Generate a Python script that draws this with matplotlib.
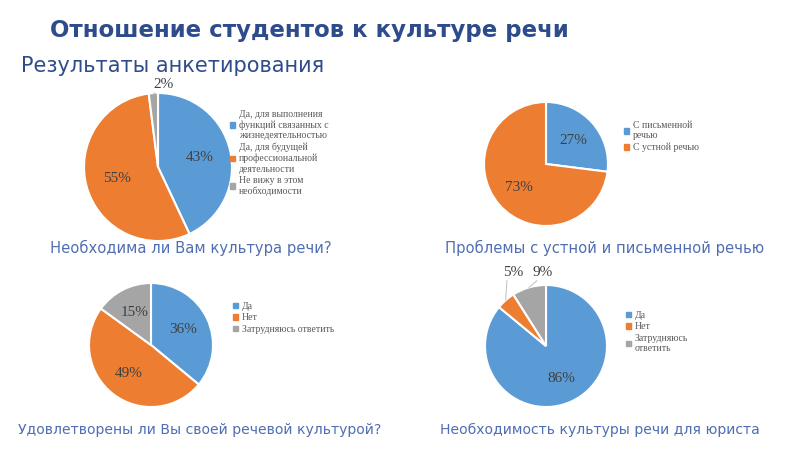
import numpy as np
import matplotlib.pyplot as plt

# data
q1_labels = ['Да, для выполнения\nфункций связанных с\nжизнедеятельностью',
             'Да, для будущей\nпрофессиональной\nдеятельности',
             'Не вижу в этом\nнеобходимости']
q1_values = [43, 55, 2]

q2_labels = ['С письменной\nречью', 'С устной речью']
q2_values = [27, 73]

q3_labels = ['Да', 'Нет', 'Затрудняюсь ответить']
q3_values = [36, 49, 15]

q4_labels = ['Да', 'Нет', 'Затрудняюсь\nответить']
q4_values = [86, 5, 9]

colors = ['#5B9BD5', '#ED7D31', '#A5A5A5']
W, H = 800, 450
serif = 'Liberation Serif'

fig = plt.figure(figsize=(8, 4.5), dpi=100)
fig.patch.set_facecolor('white')


def pie_at(cx, cy, r, values, outside=None):
    # axes placed in pixel coords, pie radius = 1
    ax = fig.add_axes([(cx - r) / W, 1 - (cy + r) / H, 2 * r / W, 2 * r / H])
    wedges, texts, autos = ax.pie(values, colors=colors[:len(values)], startangle=90,
                                  counterclock=False, radius=1,
                                  autopct=lambda p: f'{p:.0f}%', pctdistance=0.58,
                                  wedgeprops=dict(edgecolor='white', linewidth=1.5),
                                  textprops=dict(family=serif, fontsize=11, color='#404040'))
    ax.set_xlim(-1, 1)
    ax.set_ylim(-1, 1)
    ax.set_aspect('equal')
    ax.axis('off')
    if outside:
        for i, (lx, ly) in outside.items():
            w = wedges[i]
            mid = np.deg2rad((w.theta1 + w.theta2) / 2)
            autos[i].set_position((lx, ly))
            autos[i].set_clip_on(False)
            ax.plot([np.cos(mid), lx - 0.1], [np.sin(mid), ly - 0.13],
                    color='#BFBFBF', lw=0.7, clip_on=False)
    return ax


def legend_at(x, y, labels, n):
    handles = [plt.Rectangle((0, 0), 1, 1, color=colors[i]) for i in range(n)]
    fig.legend(handles, labels, loc='upper left', bbox_to_anchor=(x / W, 1 - y / H),
               frameon=False, prop=dict(family=serif, size=7), labelcolor='#595959',
               handlelength=0.5, handleheight=0.5, handletextpad=0.4,
               labelspacing=0.25, borderpad=0, borderaxespad=0)


fig.text(50 / W, 1 - 31 / H, 'Отношение студентов к культуре речи', fontsize=16.5,
         fontweight='bold', color='#2E4C8C', va='center', ha='left')
fig.text(21 / W, 1 - 66 / H, 'Результаты анкетирования', fontsize=15,
         color='#2E4C8C', va='center', ha='left')

pie_at(158, 167, 74, q1_values, outside={2: (0.07, 1.12)})
legend_at(230, 110, q1_labels, 3)

pie_at(546, 164, 62, q2_values)
legend_at(624, 121, q2_labels, 2)

pie_at(151, 345, 62, q3_values)
legend_at(233, 302, q3_labels, 3)

pie_at(546, 346, 61, q4_values, outside={1: (-0.54, 1.2), 2: (-0.05, 1.2)})
legend_at(626, 311, q4_labels, 3)

cap = dict(color='#4F6EB3', va='center')
fig.text(50 / W, 1 - 248 / H, 'Необходима ли Вам культура речи?', fontsize=10.6, **cap)
fig.text(445 / W, 1 - 248 / H, 'Проблемы с устной и письменной речью', fontsize=10.6, **cap)
fig.text(18 / W, 1 - 430 / H, 'Удовлетворены ли Вы своей речевой культурой?', fontsize=10.1, **cap)
fig.text(440 / W, 1 - 430 / H, 'Необходимость культуры речи для юриста', fontsize=10.1, **cap)

plt.savefig('out.png', dpi=100)
